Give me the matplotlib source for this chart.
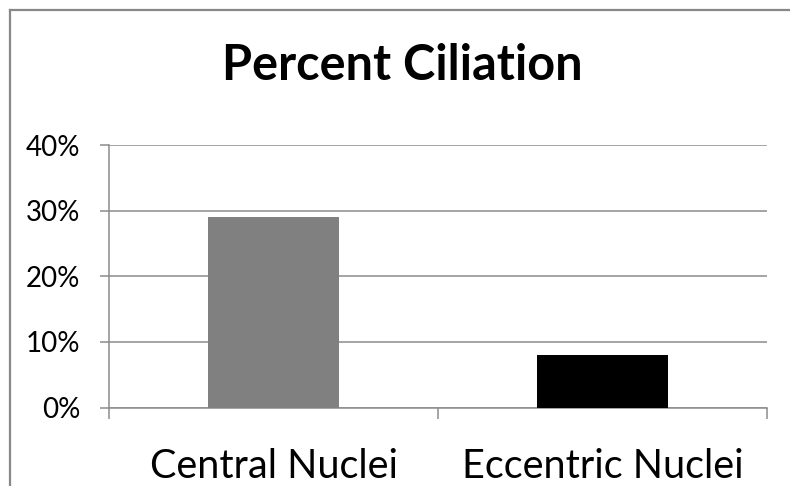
import matplotlib
matplotlib.use("Agg")
import matplotlib.pyplot as plt
from matplotlib.lines import Line2D
from matplotlib.ticker import PercentFormatter

categories = ["Central Nuclei", "Eccentric Nuclei"]
ciliation = [0.29, 0.08]
bar_colors = ["#808080", "#000000"]
y_ticks = [0.0, 0.1, 0.2, 0.3, 0.4]

plt.rcParams["font.family"] = ["Lato", "DejaVu Sans"]
grey = "#8c8c8c"

W, H = 790, 486
fig = plt.figure(figsize=(W / 100, H / 100), dpi=100)
ax = fig.add_axes([109 / W, 1 - 407.5 / H, (767 - 109) / W, (407.5 - 145) / H])

x = range(len(categories))
ax.bar(x, ciliation, width=0.4, color=bar_colors, zorder=3)

ax.set_xlim(-0.5, len(categories) - 0.5)
ax.set_ylim(0, 0.4)
ax.set_yticks(y_ticks)
ax.yaxis.set_major_formatter(PercentFormatter(1.0, decimals=0))
ax.grid(axis="y", color=grey, linewidth=1.1, zorder=0)

# category boundaries get the tick marks, names sit between them
ax.set_xticks([i - 0.5 for i in range(len(categories) + 1)])
ax.set_xticklabels([])
ax.set_xticks(list(x), minor=True)
ax.set_xticklabels(categories, minor=True, fontsize=28.5)
ax.tick_params(axis="x", which="major", direction="out", length=8, width=1.1, color=grey)
ax.tick_params(axis="x", which="minor", length=0, pad=29)
ax.tick_params(axis="y", direction="out", length=6.5, width=1.1, color=grey,
               labelsize=20, pad=14)

for side in ["top", "right"]:
    ax.spines[side].set_visible(False)
for side in ["left", "bottom"]:
    ax.spines[side].set_color(grey)
    ax.spines[side].set_linewidth(1.1)

fig.text(402 / W, 1 - 66 / H, "Percent Ciliation", ha="center", va="center",
         fontsize=35, fontweight="bold")

# chart frame
fig.add_artist(Line2D([9.5 / W, 9.5 / W], [0, 1 - 10.5 / H], color="#888888", linewidth=1.6))
fig.add_artist(Line2D([9.5 / W, 1], [1 - 10.5 / H, 1 - 10.5 / H], color="#888888", linewidth=1.6))

fig.savefig("out.png", dpi=100)
